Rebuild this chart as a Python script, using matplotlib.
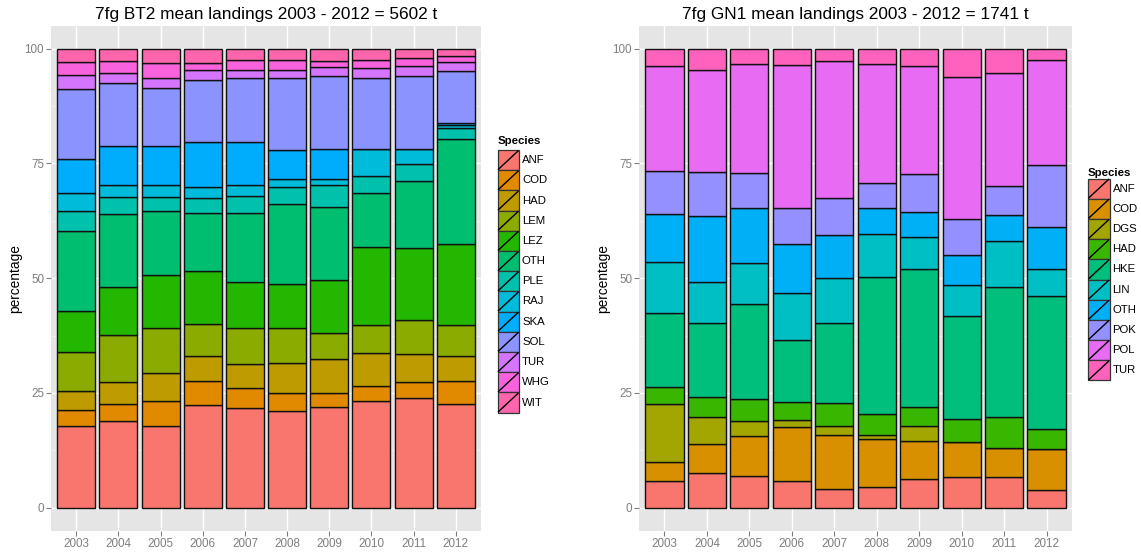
import numpy as np
import matplotlib
matplotlib.use("Agg")
import matplotlib.pyplot as plt
from matplotlib.patches import Rectangle

plt.rcParams["font.family"] = ["Liberation Sans", "DejaVu Sans"]

# ── DATA ─────────────────────────────────────────────────────────────────────

years = ["2003", "2004", "2005", "2006", "2007", "2008", "2009", "2010", "2011", "2012"]

# left panel: 7fg BT2, percentage of landings per species (bottom -> top)
bt2_species = ["ANF", "COD", "HAD", "LEM", "LEZ", "OTH", "PLE", "RAJ", "SKA", "SOL", "TUR", "WHG", "WIT"]
bt2_ANF = [17.8, 19.0, 17.9, 22.3, 21.7, 21.0, 21.9, 23.2, 23.8, 22.6]
bt2_COD = [3.5, 3.6, 5.4, 5.2, 4.3, 4.1, 3.0, 3.3, 3.5, 4.9]
bt2_HAD = [4.1, 4.7, 6.0, 5.5, 5.4, 6.4, 7.4, 7.1, 6.1, 5.5]
bt2_LEM = [8.5, 10.4, 9.8, 7.1, 7.7, 7.6, 5.7, 6.3, 7.6, 6.7]
bt2_LEZ = [8.9, 10.3, 11.6, 11.4, 10.0, 9.7, 11.7, 16.8, 15.6, 17.7]
bt2_OTH = [17.4, 15.9, 14.0, 12.8, 15.2, 17.4, 15.9, 11.9, 14.6, 22.9]
bt2_PLE = [4.4, 3.8, 3.0, 3.2, 3.6, 3.7, 4.6, 3.6, 3.7, 2.4]
bt2_RAJ = [3.9, 2.6, 2.7, 2.4, 2.3, 1.6, 1.5, 5.9, 3.2, 0.6]
bt2_SKA = [7.4, 8.5, 8.3, 9.7, 9.4, 6.5, 6.4, 0.0, 0.0, 0.5]
bt2_SOL = [15.4, 13.8, 12.8, 13.5, 14.0, 15.6, 15.9, 15.5, 16.0, 11.4]
bt2_TUR = [3.0, 2.2, 2.0, 2.3, 1.8, 1.8, 2.0, 2.1, 2.2, 1.8]
bt2_WHG = [2.8, 2.6, 3.3, 1.4, 2.1, 2.1, 1.3, 1.8, 1.6, 1.3]
bt2_WIT = [2.9, 2.6, 3.2, 3.2, 2.5, 2.5, 2.7, 2.5, 2.1, 1.7]
bt2_values = [bt2_ANF, bt2_COD, bt2_HAD, bt2_LEM, bt2_LEZ, bt2_OTH, bt2_PLE,
              bt2_RAJ, bt2_SKA, bt2_SOL, bt2_TUR, bt2_WHG, bt2_WIT]

# right panel: 7fg GN1
gn1_species = ["ANF", "COD", "DGS", "HAD", "HKE", "LIN", "OTH", "POK", "POL", "TUR"]
gn1_ANF = [5.9, 7.6, 7.0, 5.9, 4.1, 4.5, 6.2, 6.6, 6.6, 3.9]
gn1_COD = [4.0, 6.2, 8.6, 11.7, 11.7, 10.5, 8.4, 7.8, 6.5, 8.9]
gn1_DGS = [12.7, 5.9, 3.3, 1.6, 2.1, 0.9, 3.1, 0.0, 0.0, 0.0]
gn1_HAD = [3.6, 4.4, 4.7, 3.9, 4.9, 4.6, 4.3, 5.0, 6.6, 4.4]
gn1_HKE = [16.3, 16.1, 20.8, 13.5, 17.5, 29.7, 30.0, 22.4, 28.4, 28.9]
gn1_LIN = [11.1, 8.9, 8.9, 10.2, 9.8, 9.5, 6.9, 6.8, 10.0, 5.9]
gn1_OTH = [10.3, 14.5, 12.0, 10.7, 9.3, 5.5, 5.5, 6.5, 5.7, 9.2]
gn1_POK = [9.4, 9.6, 7.7, 7.8, 8.0, 5.5, 8.2, 7.8, 6.2, 13.5]
gn1_POL = [22.9, 22.2, 23.7, 31.2, 29.9, 26.0, 23.6, 30.9, 24.8, 22.8]
gn1_TUR = [3.8, 4.6, 3.3, 3.5, 2.7, 3.3, 3.8, 6.2, 5.2, 2.5]
gn1_values = [gn1_ANF, gn1_COD, gn1_DGS, gn1_HAD, gn1_HKE, gn1_LIN, gn1_OTH,
              gn1_POK, gn1_POL, gn1_TUR]

# ggplot default hue palettes
bt2_colors = ["#F8766D", "#E18A00", "#BE9C00", "#8CAB00", "#24B700", "#00BE70", "#00C1AB",
              "#00BBDA", "#00ACFC", "#8B93FF", "#D575FE", "#F962DD", "#FF65AC"]
gn1_colors = ["#F8766D", "#D89000", "#A3A500", "#39B600", "#00BF7D", "#00BFC4", "#00B0F6",
              "#9590FF", "#E76BF3", "#FF62BC"]

# ── HELPERS ──────────────────────────────────────────────────────────────────

GREY = "#7F7F7F"


def ggplot_panel(ax, values, colors, title):
    x = np.arange(len(years))
    bottom = np.zeros(len(years))
    for vals, col in zip(values, colors):
        vals = np.array(vals)
        ax.bar(x, vals, bottom=bottom, width=0.9, color=col,
               edgecolor="#111111", linewidth=1.0, zorder=3)
        bottom += vals
    ax.set_facecolor("#E5E5E5")
    ax.set_xlim(-0.6, len(years) - 0.4)
    ax.set_ylim(-5, 105)
    ax.set_xticks(x)
    ax.set_xticklabels(years)
    ax.set_yticks([0, 25, 50, 75, 100])
    ax.set_yticks([12.5, 37.5, 62.5, 87.5], minor=True)
    ax.grid(which="major", color="white", linewidth=1.0, zorder=0)
    ax.grid(which="minor", axis="y", color="#F2F2F2", linewidth=0.6, zorder=0)
    for s in ax.spines.values():
        s.set_visible(False)
    ax.tick_params(which="major", colors=GREY, labelcolor=GREY, labelsize=8.4,
                   length=3.5, width=0.8, pad=1.5)
    ax.tick_params(which="minor", length=0)
    ax.set_axisbelow(True)
    ax.set_ylabel("percentage", fontsize=9.9, labelpad=2)
    ax.set_title(title, fontsize=12.4, pad=5)


def draw_legend(lax, species, colors, x0, title_y, key_top):
    kw, kh = 21.5, 20.2
    lax.text(x0, title_y, "Species", fontsize=8.2, fontweight="bold",
             ha="left", va="center")
    for i, (sp, col) in enumerate(zip(species, colors)):
        y = key_top + i * kh
        lax.add_patch(Rectangle((x0, y), kw, kh, facecolor=col,
                                edgecolor="#333333", linewidth=0.9))
        lax.plot([x0 + 1, x0 + kw - 1], [y + kh - 1, y + 1], color="black", linewidth=1.0)
        lax.text(x0 + kw + 3, y + kh / 2, sp, fontsize=8.2, ha="left", va="center")


# ── FIGURE ───────────────────────────────────────────────────────────────────

W, H = 1141, 554
fig = plt.figure(figsize=(W / 100, H / 100), dpi=100)

ax1 = fig.add_axes([51 / W, 23.3 / H, 430 / W, 505 / H])
ax2 = fig.add_axes([639 / W, 23.3 / H, 433 / W, 505 / H])

ggplot_panel(ax1, bt2_values, bt2_colors, "7fg BT2 mean landings 2003 - 2012 = 5602 t")
ggplot_panel(ax2, gn1_values, gn1_colors, "7fg GN1 mean landings 2003 - 2012 = 1741 t")

# legends drawn in pixel coordinates
lax = fig.add_axes([0, 0, 1, 1], zorder=5)
lax.set_xlim(0, W)
lax.set_ylim(H, 0)
lax.axis("off")
draw_legend(lax, bt2_species, bt2_colors, 497.5, 141, 150)
draw_legend(lax, gn1_species, gn1_colors, 1088, 172.5, 178.5)

fig.savefig("out.png", dpi=100)
